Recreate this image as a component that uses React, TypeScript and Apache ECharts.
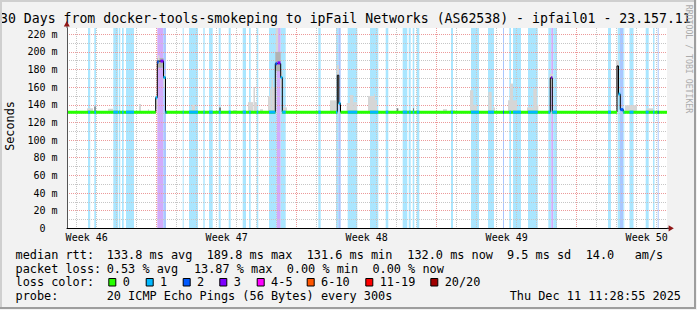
import React, { useEffect, useRef } from "react";
import * as echarts from "echarts";

const MONO = '"DejaVu Sans Mono", monospace';

// ---------------- data ----------------
const titleText =
  "30 Days from docker-tools-smokeping to ipFail Networks (AS62538) - ipfail01 - 23.157.11";
const yAxisName = "Seconds";
const watermark = "RRDTOOL / TOBI OETIKER";
const weekLabels = ["Week 46", "Week 47", "Week 48", "Week 49", "Week 50"];
const rangeDays = 30;
const yMaxMs = 227;

const lossLabels = ["0", "1", "2", "3", "4-5", "6-10", "11-19", "20/20"];
const lossColors = ["#26ff00", "#00b8ff", "#0059ff", "#7e00ff", "#ff00ff", "#ff5500", "#ff0000", "#a00000"];
const lossBgColors = ["#ffffff", "#aae6ff", "#aac7ff", "#d3abfb"];
const smokeColors = ["#d6d6d6", "#b2b2b2", "#7c7c7c"];

// [startDay, endDay, loss class]
const lossBands = [
  [1.05, 1.16, 1], [1.365, 1.45, 1], [2.315, 2.55, 1], [2.585, 2.665, 1], [2.75, 2.835, 1], [2.95, 3.35, 1],
  [4.515, 4.815, 3], [4.815, 4.95, 2], [5.785, 5.835, 1], [6.1, 6.55, 1], [6.815, 6.885, 1], [7.1, 7.285, 1],
  [7.585, 7.685, 1], [8.085, 8.185, 1], [8.785, 8.95, 1], [9.1, 9.185, 1], [9.485, 9.565, 1],
  [10.1, 10.485, 1], [10.485, 10.685, 3], [10.685, 10.935, 1], [12.565, 12.685, 1],
  [13.45, 13.565, 1], [13.565, 13.685, 2], [14.035, 14.515, 1], [15.15, 15.565, 1], [15.935, 16.065, 1],
  [16.785, 17.015, 1], [17.085, 17.185, 1], [17.285, 17.365, 1], [17.485, 17.615, 1],
  [19.2, 19.3, 1], [20.2, 20.6, 1], [21.05, 21.35, 1], [21.8, 21.85, 2], [22.115, 22.2, 1], [22.3, 22.7, 1],
  [23.05, 23.535, 1], [24.065, 24.215, 1], [24.215, 24.315, 3], [24.315, 24.5, 1],
  [27.05, 27.2, 1], [27.535, 27.65, 1], [27.65, 27.815, 2], [27.815, 27.865, 1], [28.125, 28.325, 1],
  [28.935, 29.085, 1], [29.3, 29.375, 1], [29.535, 29.585, 2],
];

// [startDay, endDay, low ms, high ms, shade]
const smoke = [
  [1.0, 1.3, 131.6, 136, 0], [1.365, 1.435, 131.6, 138, 2], [2.05, 2.3, 131.6, 135.5, 0],
  [3.6, 3.7, 131.6, 141, 0], [4.05, 4.1, 131.6, 135, 0],
  [4.4, 4.515, 135, 150, 0], [4.515, 4.825, 182, 193, 1], [4.55, 4.62, 189.5, 196, 0], [4.825, 4.925, 160, 175, 0],
  [6.235, 6.4, 131.6, 140, 0], [7.6, 7.7, 131.6, 137, 2], [8.3, 8.5, 131.6, 134, 0],
  [9.05, 9.3, 131.6, 143, 0], [9.325, 9.4, 131.6, 160, 0], [9.4, 9.5, 131.6, 143, 0], [9.65, 9.8, 131.6, 135, 0],
  [10.05, 10.15, 131.6, 150, 0], [10.15, 10.225, 131.6, 158, 0], [10.225, 10.3, 131.6, 168, 0],
  [10.3, 10.415, 131.6, 160, 0], [10.415, 10.685, 178, 200, 1], [10.44, 10.56, 200, 227, 0],
  [10.685, 10.765, 160, 178, 0], [10.8, 11.0, 131.6, 137, 0],
  [13.15, 13.485, 131.6, 145, 0], [13.49, 13.6, 150, 185, 0],
  [13.985, 14.15, 131.6, 142, 0], [14.15, 14.315, 131.6, 151, 0], [14.315, 14.5, 131.6, 143, 0],
  [15.05, 15.35, 131.6, 150, 0], [15.35, 15.4, 131.6, 152.5, 0], [15.4, 15.5, 131.6, 145, 0],
  [16.485, 16.565, 131.6, 136, 2], [17.3, 17.35, 131.6, 136, 2], [18.8, 19.0, 131.6, 135, 0],
  [19.15, 19.4, 131.6, 134, 0], [20.15, 20.315, 131.6, 156.5, 0], [20.315, 20.485, 131.6, 140, 0],
  [21.065, 21.235, 131.6, 154.6, 0], [21.3, 21.4, 131.6, 137, 0],
  [22.05, 22.15, 131.6, 145, 0], [22.15, 22.3, 131.6, 164, 0], [22.3, 22.5, 131.6, 145, 0],
  [23.0, 23.3, 131.6, 137, 0], [23.315, 23.485, 131.6, 158, 0], [23.485, 23.565, 131.6, 140, 0],
  [24.13, 24.3, 160, 175, 0], [27.45, 27.6, 150, 190, 0],
  [27.9, 28.5, 131.6, 139.5, 0], [28.985, 29.315, 131.6, 136, 0],
];

// median rtt path: [startDay, endDay, ms, loss class (-1 = drawn only as the black line)]
const medianPath = [
  [0, 4.435, 131.6, 0], [4.435, 4.515, 148, 1], [4.515, 4.825, 189.5, -1], [4.825, 4.925, 171, 1],
  [4.925, 10.415, 131.6, 0], [10.415, 10.685, 186.6, -1], [10.685, 10.765, 171, 1],
  [10.765, 13.515, 131.6, 0], [13.515, 13.59, 173.5, -1], [13.59, 13.675, 141.5, 1],
  [13.675, 24.165, 131.6, 0], [24.165, 24.265, 170.5, -1],
  [24.265, 27.5, 131.6, 0], [27.5, 27.575, 184, -1], [27.575, 27.665, 152, 1], [27.665, 27.815, 134.5, 2],
  [27.815, 30, 131.6, 0],
];

// loss-coloured pieces of the median: [startDay, endDay, ms, loss class]
const medianLossMarks = [
  [1.05, 1.16, 131.6, 1], [1.365, 1.45, 131.6, 1], [2.315, 2.55, 131.6, 1], [2.585, 2.665, 131.6, 1],
  [2.75, 2.835, 131.6, 1], [2.95, 3.35, 131.6, 1],
  [4.515, 4.585, 188.5, 2], [4.675, 4.825, 189.5, 3], [4.925, 4.95, 131.6, 2],
  [5.785, 5.835, 131.6, 1], [6.1, 6.55, 131.6, 1], [6.815, 6.885, 131.6, 1], [7.1, 7.285, 131.6, 1],
  [7.585, 7.685, 131.6, 1], [8.085, 8.185, 131.6, 1], [8.785, 8.95, 131.6, 1], [9.1, 9.185, 131.6, 1],
  [9.485, 9.565, 131.6, 1], [10.1, 10.415, 131.6, 1],
  [10.425, 10.5, 186.6, 2], [10.525, 10.675, 187.5, 3], [10.765, 10.935, 131.6, 1],
  [12.565, 12.685, 131.6, 1], [13.45, 13.515, 131.6, 1], [14.035, 14.515, 131.6, 1], [15.15, 15.565, 131.6, 1],
  [15.935, 16.065, 131.6, 1], [16.785, 17.015, 131.6, 1], [17.085, 17.185, 131.6, 1], [17.285, 17.365, 131.6, 1],
  [17.485, 17.615, 131.6, 1], [19.2, 19.3, 131.6, 1], [20.2, 20.6, 131.6, 1], [21.05, 21.35, 131.6, 1],
  [21.8, 21.85, 131.6, 2], [22.115, 22.2, 131.6, 1], [22.3, 22.7, 131.6, 1], [23.05, 23.535, 131.6, 1],
  [24.065, 24.165, 131.6, 1], [24.215, 24.265, 171, 3], [24.265, 24.5, 131.6, 1],
  [27.05, 27.2, 131.6, 1], [27.815, 27.865, 131.6, 1], [28.125, 28.325, 131.6, 1], [28.935, 29.085, 131.6, 1],
  [29.3, 29.375, 131.6, 1], [29.535, 29.585, 131.6, 2],
];

const legendHeads = ["median rtt:", "packet loss:", "loss color:", "probe:"];
const rttStats = ["133.8 ms avg", "189.8 ms max", "131.6 ms min", "132.0 ms now", "9.5 ms sd", "14.0", "am/s"];
const lossStats = ["0.53 % avg", "13.87 % max", "0.00 % min", "0.00 % now"];
const probeText = "20 ICMP Echo Pings (56 Bytes) every 300s";
const dateText = "Thu Dec 11 11:28:55 2025";

// ---------------- layout ----------------
const PL = 67, PT = 28, PW = 600, PB = 228.3;
const PH = PB - PT;
const pxPerDay = PW / rangeDays;
const pxPerMs = PH / yMaxMs;

export default function App() {
  const ref = useRef<HTMLDivElement>(null);
  useEffect(() => {
    const chart = echarts.init(ref.current!, null, { renderer: "svg" });

    const medianPoints: number[][] = [];
    medianPath.forEach((s) => {
      medianPoints.push([s[0], s[2]]);
      medianPoints.push([s[1], s[2]]);
    });

    const hidden = { show: false };
    const gridOnly = (color: string, z: number) => ({
      axisLine: hidden, axisTick: hidden, axisLabel: hidden,
      splitLine: { show: true, lineStyle: { color, type: [1, 1], width: 1 } },
      z,
    });
    const minorC = "#c6c6c6";
    const majorC = "#ec9a9a";

    const txt = (text: string, x: number, y: number, size: number, extra: any = {}) => ({
      type: "text", x, y, z: 100,
      style: {
        text, fontFamily: MONO, fontSize: size, fill: "#000",
        textVerticalAlign: "middle", verticalAlign: "middle", ...extra,
      },
    });

    const rttX = [106.7, 206.7, 306.7, 407.3, 507.0, 585.7, 634.7];
    const lossX = [106.7, 193.9, 286.7, 372.4];
    const boxX = [108.3, 145.7, 182.7, 219.3, 256.7, 306.7, 365.3, 430.3];
    const rowY = [254.5, 268.5, 282.3, 296.2];

    const graphics: any[] = [
      txt(titleText, 0, 18.6, 13.2),
      { ...txt(yAxisName, 10, 126, 11.8, { textAlign: "center", align: "center" }), rotation: Math.PI / 2 },
      { ...txt(watermark, 688.5, 59, 8.2, { textAlign: "center", align: "center", fill: "#ababab" }), rotation: -Math.PI / 2 },
      { type: "line", z: 100, shape: { x1: 67, y1: 25.5, x2: 67, y2: PT }, style: { stroke: "#555", lineWidth: 1 } },
      { type: "polygon", z: 100, shape: { points: [[63.8, 26.5], [66.8, 21], [69.8, 26.5]] }, style: { fill: "#8f1717" } },
      { type: "line", z: 100, shape: { x1: PL + PW, y1: PB, x2: 669, y2: PB }, style: { stroke: "#000", lineWidth: 1 } },
      { type: "polygon", z: 100, shape: { points: [[668.6, 225.2], [673.8, 228.3], [668.6, 231.4]] }, style: { fill: "#8f1717" } },
      txt(legendHeads[0], 15.5, rowY[0], 11.86),
      txt(legendHeads[1], 15.5, rowY[1], 11.86),
      txt(legendHeads[2], 15.5, rowY[2], 11.86),
      txt(legendHeads[3], 15.5, rowY[3], 11.86),
      txt(probeText, 106.7, rowY[3], 11.86),
      txt(dateText, 681, rowY[3], 11.86, { textAlign: "right", align: "right" }),
      // border (rrdtool shade)
      { type: "rect", z: 101, shape: { x: 0, y: 0, width: 696, height: 2 }, style: { fill: "#cfcfcf" } },
      { type: "rect", z: 101, shape: { x: 0, y: 0, width: 2, height: 309 }, style: { fill: "#cfcfcf" } },
      { type: "rect", z: 101, shape: { x: 0, y: 307, width: 696, height: 2 }, style: { fill: "#9e9e9e" } },
      { type: "rect", z: 101, shape: { x: 694, y: 0, width: 2, height: 309 }, style: { fill: "#9e9e9e" } },
    ];
    rttStats.forEach((s, i) => graphics.push(txt(s, rttX[i], rowY[0], 11.86)));
    lossStats.forEach((s, i) => graphics.push(txt(s, lossX[i], rowY[1], 11.86)));
    lossLabels.forEach((s, i) => {
      graphics.push({
        type: "rect", z: 100,
        shape: { x: boxX[i] + 0.5, y: rowY[2] - 3.8, width: 7, height: 7.5 },
        style: { fill: lossColors[i], stroke: "#000", lineWidth: 1 },
      });
      graphics.push(txt(s, boxX[i] + 14.4, rowY[2], 11.86));
    });

    const option: any = {
      animation: false,
      backgroundColor: "#f2f2f2",
      grid: [
        { left: PL, top: PT, width: PW, height: PH, show: true, backgroundColor: "#ffffff", borderWidth: 0, z: 0 },
        { left: PL + 0.475 * pxPerDay, top: PT, width: 29 * pxPerDay, height: PH },
        { left: PL + 4.475 * pxPerDay, top: PT, width: 21 * pxPerDay, height: PH },
        { left: PL + 0.985 * pxPerDay, top: PT, width: 28 * pxPerDay, height: PH },
        { left: PL, top: PB - 220 * pxPerMs, width: PW, height: 220 * pxPerMs },
      ],
      xAxis: [
        {
          gridIndex: 0, type: "value", min: 0, max: rangeDays,
          axisLine: { show: true, onZero: false, lineStyle: { color: "#000", width: 1 } },
          axisTick: hidden, axisLabel: hidden, splitLine: hidden, z: 6,
        },
        { gridIndex: 1, type: "value", min: 0, max: 29, interval: 1, ...gridOnly(minorC, 2) },
        { gridIndex: 2, type: "value", min: 0, max: 21, interval: 7, ...gridOnly(majorC, 3) },
        {
          gridIndex: 3, type: "value", min: 0, max: 28, interval: 7,
          axisLine: hidden, axisTick: hidden, splitLine: hidden,
          axisLabel: {
            show: true, margin: 4.5, showMinLabel: true, showMaxLabel: true,
            fontFamily: MONO, fontSize: 10, color: "#000",
            formatter: (v: number) => weekLabels[Math.round(v / 7)] ?? "",
          },
        },
        { gridIndex: 4, type: "value", min: 0, max: rangeDays, show: false },
      ],
      yAxis: [
        {
          gridIndex: 0, type: "value", min: 0, max: yMaxMs, position: "left",
          axisLine: { show: true, onZero: false, lineStyle: { color: "#555", width: 1 } },
          axisTick: hidden, axisLabel: hidden, splitLine: hidden, z: 6,
        },
        { gridIndex: 1, type: "value", min: 0, max: 1, show: false },
        { gridIndex: 2, type: "value", min: 0, max: 1, show: false },
        { gridIndex: 3, type: "value", min: 0, max: 1, show: false },
        { gridIndex: 4, type: "value", min: 0, max: 220, interval: 10, position: "left", ...gridOnly(minorC, 2) },
        {
          gridIndex: 4, type: "value", min: 0, max: 220, interval: 20, position: "left", offset: 0,
          ...gridOnly(majorC, 3),
          axisLabel: {
            show: true, margin: 9.5, fontFamily: MONO, fontSize: 10, color: "#000",
            showMinLabel: true, showMaxLabel: true,
            formatter: (v: number) => (v === 0 ? "{z|0}" : `${v} m`),
            rich: { z: { padding: [0, 12, 0, 0], fontFamily: MONO, fontSize: 10, color: "#000" } },
          },
        },
      ],
      graphic: { elements: graphics },
      series: [
        {
          type: "custom", name: "loss background", xAxisIndex: 0, yAxisIndex: 0, z: 1,
          data: lossBands,
          renderItem: (_p: any, api: any) => {
            const a = api.coord([api.value(0), yMaxMs]);
            const b = api.coord([api.value(1), 0]);
            return {
              type: "rect",
              shape: { x: a[0], y: a[1], width: Math.max(b[0] - a[0], 1), height: b[1] - a[1] },
              style: { fill: lossBgColors[api.value(2)] },
            };
          },
        },
        {
          type: "custom", name: "smoke", xAxisIndex: 0, yAxisIndex: 0, z: 4,
          data: smoke,
          renderItem: (_p: any, api: any) => {
            const a = api.coord([api.value(0), api.value(3)]);
            const b = api.coord([api.value(1), api.value(2)]);
            return {
              type: "rect",
              shape: { x: a[0], y: a[1], width: Math.max(b[0] - a[0], 1), height: b[1] - a[1] },
              style: { fill: smokeColors[api.value(4)] },
            };
          },
        },
        {
          type: "line", name: "median", xAxisIndex: 0, yAxisIndex: 0, z: 5,
          data: medianPoints, showSymbol: false, symbol: "none",
          lineStyle: { color: "#000", width: 1 },
        },
        {
          type: "custom", name: "median loss colour", xAxisIndex: 0, yAxisIndex: 0, z: 6,
          data: [...medianPath.filter((s) => s[3] >= 0), ...medianLossMarks],
          renderItem: (_p: any, api: any) => {
            const a = api.coord([api.value(0), api.value(2)]);
            const b = api.coord([api.value(1), api.value(2)]);
            return {
              type: "line",
              shape: { x1: a[0], y1: a[1], x2: Math.max(b[0], a[0] + 1), y2: b[1] },
              style: { stroke: lossColors[api.value(3)], lineWidth: 3, lineCap: "butt" },
            };
          },
        },
      ],
    };
    chart.setOption(option);
    return () => chart.dispose();
  }, []);
  return <div ref={ref} style={{ position: "fixed", left: 0, top: 0, width: 697, height: 310 }} />;
}
